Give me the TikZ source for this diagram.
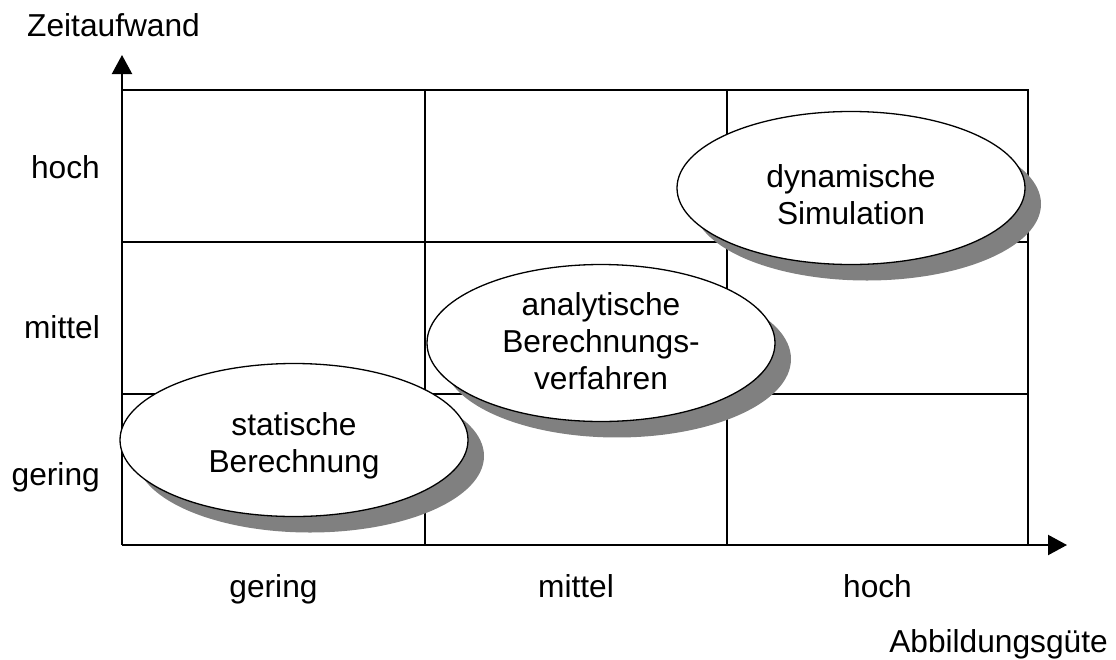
\documentclass[tikz,border=0pt]{standalone}
\usepackage{fontspec}
\setmainfont{Liberation Sans}
\usetikzlibrary{arrows.meta,shapes.geometric,shadows}
\definecolor{shadowgray}{RGB}{128,128,128}
\newcommand{\bubbletext}[2]{\raisebox{#1}[\height][\depth]{\begin{tabular}{@{}c@{}}#2\end{tabular}}}
\begin{document}
\begin{tikzpicture}[x=1pt,y=-1pt,
  lbl/.style={font=\fontsize{31.7}{37}\selectfont, inner sep=0pt},
  gridline/.style={line width=2pt, line cap=rect},
  axis/.style={line width=2.2pt, -{Triangle[length=19pt 0,width=20pt 0]}},
  bubble/.style={ellipse, draw, fill=white, line width=1.3pt, inner sep=0pt,
    minimum width=348pt, minimum height=153pt,
    font=\fontsize{31.7}{37}\selectfont,
    drop shadow={shadow xshift=16pt, shadow yshift=-16pt, fill=shadowgray, opacity=1}}]
\useasboundingbox (0,0) rectangle (1116,659);
% grid
\coordinate (O) at (122,545);
\coordinate (ytip) at (122,55);
\coordinate (xtip) at (1067,545);
\coordinate (c1b) at (425,545); \coordinate (c1t) at (425,90);
\coordinate (c2b) at (727,545); \coordinate (c2t) at (727,90);
\coordinate (c3b) at (1028,545); \coordinate (c3t) at (1028,90);
\coordinate (r1l) at (122,90);  \coordinate (r1r) at (1028,90);
\coordinate (r2l) at (122,242); \coordinate (r2r) at (1028,242);
\coordinate (r3l) at (122,394); \coordinate (r3r) at (1028,394);
\draw[gridline] (c1b) -- (c1t);
\draw[gridline] (c2b) -- (c2t);
\draw[gridline] (c3b) -- (c3t);
\draw[gridline] (r1l) -- (r1r);
\draw[gridline] (r2l) -- (r2r);
\draw[gridline] (r3l) -- (r3r);
\draw[axis] (O) -- (ytip);
\draw[axis] (O) -- (xtip);
% labels
\node[lbl, anchor=base west] (ylab) at (27,36) {Zeitaufwand};
\node[lbl, anchor=base east] (xlab) at (1108,652) {Abbildungsgüte};
\node[lbl, anchor=base east] (yhoch) at (100,178) {hoch};
\node[lbl, anchor=base east] (ymittel) at (100,338) {mittel};
\node[lbl, anchor=base east] (ygering) at (100,485) {gering};
\node[lbl, anchor=base] (xgering) at (273.5,597) {gering};
\node[lbl, anchor=base] (xmittel) at (576,597) {mittel};
\node[lbl, anchor=base] (xhoch) at (877.5,597) {hoch};
% bubbles
\node[bubble] (stat) at (294,440) {\bubbletext{-7pt}{statische\\Berechnung}};
\node[bubble] (anal) at (601,343) {\bubbletext{-1.6pt}{analytische\\Berechnungs-\\verfahren}};
\node[bubble] (dyn) at (851,188) {\bubbletext{-11pt}{dynamische\\Simulation}};
\end{tikzpicture}
\end{document}
